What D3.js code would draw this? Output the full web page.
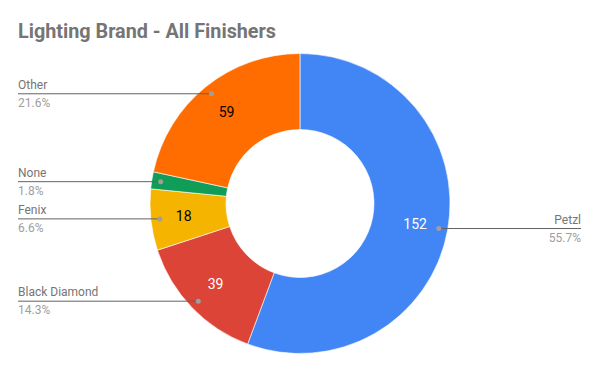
<!DOCTYPE html>
<html>
<head>
<meta charset="utf-8">
<script src="https://cdn.jsdelivr.net/npm/d3@7"></script>
<style>
  body { margin: 0; background: #fff; }
  text { font-family: Roboto, "Noto Sans", sans-serif; }
</style>
</head>
<body>
<div id="chart"></div>
<script>
// data
const brands = ["Petzl", "Black Diamond", "Fenix", "None", "Other"]
const counts = [152, 39, 18, 5, 59]
const colors = ["#4285f4", "#db4437", "#f4b400", "#0f9d58", "#ff6d00"]
const valueColors = ["#fff", "#fff", "#000", "#000", "#000"]

const width = 600
const height = 371
const cx = 300, cy = 203.5
const outerR = 150, innerR = 74

const total = d3.sum(counts)
const pctFmt = d3.format(".1%")

const svg = d3.select("#chart").append("svg")
  .attr("width", width)
  .attr("height", height)

svg.append("rect").attr("width", width).attr("height", height).attr("fill", "#fff")

svg.append("text")
  .attr("x", 18).attr("y", 38)
  .attr("font-size", 19.8).attr("font-weight", "bold")
  .attr("fill", "#757575")
  .text("Lighting Brand - All Finishers")

const rows = brands.map((b, i) => ({ brand: b, count: counts[i], i: i }))

const pie = d3.pie().sort(null).value(d => d.count)
const arcs = pie(rows)

const arc = d3.arc().innerRadius(innerR).outerRadius(outerR)
const valueArc = d3.arc().innerRadius(117).outerRadius(117)
const dotArc = d3.arc().innerRadius(141).outerRadius(141)

const g = svg.append("g").attr("transform", `translate(${cx},${cy})`)

g.selectAll("path.slice")
  .data(arcs)
  .enter()
  .append("path")
  .attr("class", "slice")
  .attr("d", arc)
  .attr("fill", d => colors[d.data.i])
  .attr("stroke", "#fff")
  .attr("stroke-width", 0.6)

// value labels, skip tiny slices
g.selectAll("text.val")
  .data(arcs.filter(d => d.data.count / total > 0.03))
  .enter()
  .append("text")
  .attr("class", "val")
  .attr("transform", d => `translate(${valueArc.centroid(d)})`)
  .attr("text-anchor", "middle")
  .attr("dy", "0.35em")
  .attr("font-size", 14)
  .attr("fill", d => valueColors[d.data.i])
  .text(d => d.data.count)

// leader lines + labels
arcs.forEach(d => {
  const [px, py] = dotArc.centroid(d)
  const x = cx + px, y = cy + py
  const right = x > cx
  const endX = right ? 581 : 18
  svg.append("line")
    .attr("x1", x).attr("y1", y).attr("x2", endX).attr("y2", y)
    .attr("stroke", "#636363").attr("stroke-width", 1)
  svg.append("circle")
    .attr("cx", x).attr("cy", y).attr("r", 2.5)
    .attr("fill", "#9e9e9e")
  svg.append("text")
    .attr("x", endX).attr("y", y - 5)
    .attr("text-anchor", right ? "end" : "start")
    .attr("font-size", 12).attr("fill", "#757575")
    .text(d.data.brand)
  svg.append("text")
    .attr("x", endX).attr("y", y + 13)
    .attr("text-anchor", right ? "end" : "start")
    .attr("font-size", 12).attr("fill", "#9e9e9e")
    .text(pctFmt(d.data.count / total))
})
</script>
</body>
</html>
